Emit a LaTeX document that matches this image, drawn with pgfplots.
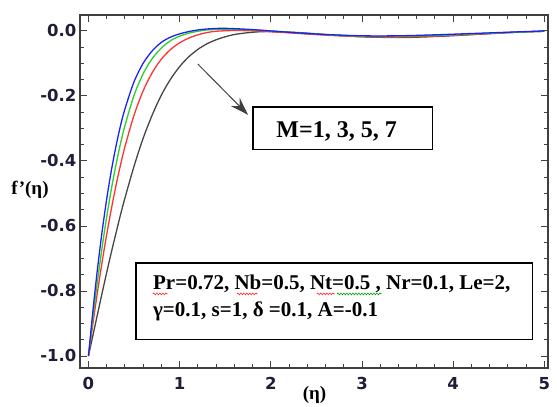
\documentclass[border=0pt]{standalone}
\usepackage{fontspec}
\setmainfont{Liberation Serif}
\newfontfamily\ticksf{DejaVu Sans}
\usepackage{pgfplots}
\pgfplotsset{compat=1.18}
\usetikzlibrary{arrows.meta,decorations.pathmorphing}
\definecolor{tickc}{RGB}{30,30,55}
\definecolor{cblue}{RGB}{30,30,255}
\definecolor{cgreen}{RGB}{40,210,40}
\definecolor{cred}{RGB}{255,50,50}
\definecolor{cblack}{RGB}{70,70,70}
\begin{document}
\begin{tikzpicture}
\begin{axis}[
  scale only axis, width=468pt, height=353pt,
  xmin=-0.093, xmax=5.04, ymin=-1.037, ymax=0.049,
  xtick={0,1,2,3,4,5}, minor x tick num=4,
  ytick={-1,-0.8,-0.6,-0.4,-0.2,0}, minor y tick num=3,
  tick align=inside,
  major tick length=7pt, minor tick length=4pt,
  every tick/.style={line width=0.9pt, color=black!75},
  axis line style={line width=1.3pt, color=black!75},
  /pgf/number format/assume math mode=true,
  xticklabel style={font=\ticksf\bfseries\fontsize{16.5}{18}\selectfont, text=tickc, yshift=-6pt},
  yticklabel style={font=\ticksf\bfseries\fontsize{16.5}{18}\selectfont, text=tickc},
  yticklabel={\pgfmathprintnumber[fixed,precision=1,fixed zerofill]{\tick}},
  xticklabel={\pgfmathprintnumber[fixed,precision=0]{\tick}},
  clip=false,
]
% M=7 (black)
\addplot[cblack, line width=1.3pt, smooth] coordinates {
(0,-1) (0.05,-0.935) (0.1,-0.870) (0.15,-0.806) (0.2,-0.743) (0.25,-0.682) (0.3,-0.624) (0.35,-0.567) (0.4,-0.514) (0.5,-0.416) (0.6,-0.330) (0.7,-0.258) (0.8,-0.197) (0.9,-0.1485) (1.0,-0.1097) (1.1,-0.0796) (1.2,-0.0567) (1.3,-0.0396) (1.4,-0.0272) (1.5,-0.0180) (1.6,-0.011) (1.7,-0.007) (1.85,-0.003) (2.0,-0.002) (2.3,-0.005) (2.7,-0.013) (3.1,-0.019) (3.5,-0.020) (3.9,-0.016) (4.3,-0.010) (4.7,-0.004) (5.0,-0.001)};
% M=5 (red)
\addplot[cred, line width=1.3pt, smooth] coordinates {
(0,-1) (0.05,-0.898) (0.1,-0.801) (0.15,-0.710) (0.2,-0.626) (0.25,-0.549) (0.3,-0.478) (0.35,-0.414) (0.4,-0.356) (0.5,-0.259) (0.6,-0.184) (0.7,-0.128) (0.8,-0.0865) (0.9,-0.0572) (1.0,-0.0365) (1.1,-0.022) (1.2,-0.012) (1.3,-0.005) (1.4,-0.001) (1.55,0.001) (1.7,0.001) (1.9,-0.001) (2.2,-0.006) (2.6,-0.013) (3.0,-0.018) (3.4,-0.019) (3.8,-0.016) (4.2,-0.011) (4.6,-0.005) (5.0,-0.001)};
% M=3 (green)
\addplot[cgreen, line width=1.3pt, smooth] coordinates {
(0,-1) (0.05,-0.879) (0.1,-0.767) (0.15,-0.665) (0.2,-0.572) (0.25,-0.488) (0.3,-0.414) (0.35,-0.348) (0.4,-0.291) (0.5,-0.198) (0.6,-0.1315) (0.7,-0.0846) (0.8,-0.0525) (0.9,-0.030) (1.0,-0.016) (1.1,-0.007) (1.2,-0.001) (1.3,0.003) (1.45,0.005) (1.6,0.005) (1.8,0.003) (2.0,0.0) (2.3,-0.006) (2.7,-0.013) (3.1,-0.017) (3.5,-0.016) (3.9,-0.013) (4.3,-0.008) (4.7,-0.004) (5.0,-0.001)};
% M=1 (blue)
\addplot[cblue, line width=1.3pt, smooth] coordinates {
(0,-1) (0.05,-0.857) (0.1,-0.729) (0.15,-0.616) (0.2,-0.517) (0.25,-0.431) (0.3,-0.357) (0.35,-0.293) (0.4,-0.240) (0.5,-0.156) (0.6,-0.0994) (0.7,-0.0610) (0.8,-0.035) (0.9,-0.019) (1.0,-0.009) (1.1,-0.002) (1.2,0.003) (1.3,0.006) (1.45,0.008) (1.6,0.007) (1.8,0.004) (2.0,0.0) (2.3,-0.006) (2.6,-0.011) (3.0,-0.015) (3.4,-0.015) (3.8,-0.012) (4.2,-0.008) (4.6,-0.004) (5.0,0.0)};
% arrow
\draw[black!75, line width=1pt, -{Stealth[length=18pt,width=12pt]}] (axis cs:1.20,-0.102) -- (axis cs:1.75,-0.258);
% box 1
\draw[line width=1.1pt, fill=white] (axis cs:1.804,-0.234) rectangle (axis cs:3.777,-0.366);
\node[anchor=base west, inner sep=0pt, font=\bfseries\fontsize{24}{27}\selectfont] at (axis cs:2.06,-0.327) {M=1, 3, 5, 7};
% box 2
\draw[line width=1.1pt, fill=white] (axis cs:0.521,-0.714) rectangle (axis cs:4.874,-0.948);
\node[anchor=base west, inner sep=0pt, font=\bfseries\fontsize{21}{24}\selectfont] at (axis cs:0.707,-0.797) {Pr=0.72, Nb=0.5, Nt=0.5 , Nr=0.1, Le=2,};
\node[anchor=base west, inner sep=0pt, font=\bfseries\fontsize{21}{24}\selectfont] at (axis cs:0.707,-0.879) {γ=0.1, s=1, δ =0.1, A=-0.1};
% spell-check squiggles
\draw[red!85, line width=0.6pt, decorate, decoration={snake, amplitude=0.9pt, segment length=3pt}] (axis cs:0.707,-0.809) -- (axis cs:0.872,-0.809);
\draw[red!85, line width=0.6pt, decorate, decoration={snake, amplitude=0.9pt, segment length=3pt}] (axis cs:1.628,-0.809) -- (axis cs:1.859,-0.809);
\draw[red!85, line width=0.6pt, decorate, decoration={snake, amplitude=0.9pt, segment length=3pt}] (axis cs:2.505,-0.809) -- (axis cs:2.703,-0.809);
\draw[green!60!black, line width=0.6pt, decorate, decoration={snake, amplitude=0.9pt, segment length=3pt}] (axis cs:2.725,-0.809) -- (axis cs:3.218,-0.809);
% axis labels
\node[font=\bfseries\fontsize{19}{21}\selectfont] at (axis cs:-0.641,-0.489) {f'(η)};
\node[font=\bfseries\fontsize{19}{21}\selectfont] at (axis cs:2.48,-1.12) {(η)};
\end{axis}
\path (current axis.south west) ++(-80pt,-37pt) coordinate (bbA);
\path (current axis.north east) ++(9pt,15pt) coordinate (bbB);
\useasboundingbox (bbA) rectangle (bbB);
\end{tikzpicture}
\end{document}
